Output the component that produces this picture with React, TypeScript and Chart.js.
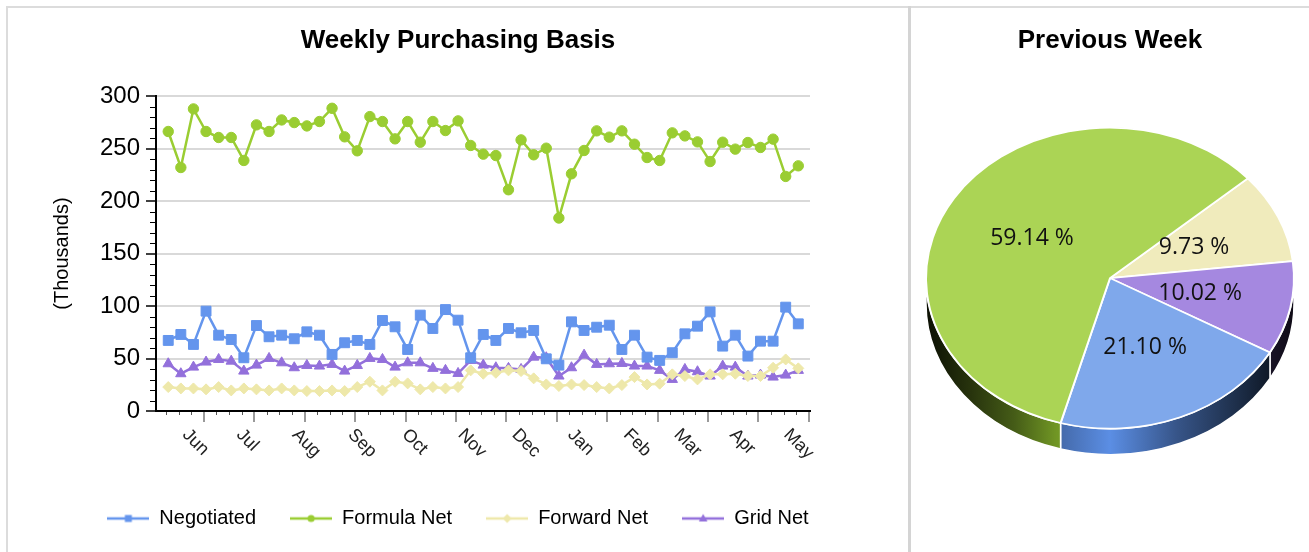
import React, { useEffect, useRef } from "react";
import { Chart, registerables } from "chart.js";

Chart.register(...registerables);
Chart.defaults.font.family = "'Liberation Sans', Arial, sans-serif";
Chart.defaults.color = "#000";

// ---------- data ----------
const FIRST_WEEK = "2022-05-22";

const NEGOTIATED = [
  67.2, 72.9, 63.4, 95.1, 72.2, 68.1, 50.7, 81.4, 70.7, 72.2, 68.8, 75.4, 72.2, 53.9, 65.0, 67.2, 63.4,
  86.2, 80.2, 58.6, 91.3, 78.6, 96.6, 86.5, 50.7, 72.9, 67.2, 78.6, 74.5, 76.7, 49.7, 43.7, 84.9, 76.7,
  79.8, 81.7, 58.6, 72.2, 51.3, 48.2, 55.5, 73.5, 80.8, 94.4, 61.8, 72.2, 52.3, 66.5, 66.5, 98.9, 83.0,
];
const FORMULA_NET = [
  266.2, 231.9, 287.7, 266.2, 260.5, 260.5, 238.6, 272.5, 266.2, 277.2, 274.7, 271.5, 275.7, 288.3, 261.1,
  247.8, 280.4, 275.7, 259.2, 275.7, 256.0, 275.7, 267.1, 276.3, 252.9, 244.6, 243.3, 210.7, 258.2, 244.0,
  250.3, 183.8, 225.9, 248.1, 266.8, 260.8, 266.8, 254.1, 241.4, 238.6, 264.9, 262.0, 256.3, 237.6, 256.0,
  249.4, 255.7, 251.0, 258.9, 223.4, 233.5,
];
const FORWARD_NET = [
  22.8, 21.5, 21.5, 20.6, 22.8, 19.6, 21.5, 20.6, 19.6, 21.5, 19.6, 19.0, 19.0, 19.6, 19.0, 22.8, 27.9,
  19.6, 27.9, 26.3, 20.6, 22.8, 21.5, 22.8, 38.7, 35.5, 36.4, 38.7, 38.0, 31.1, 25.3, 23.8, 25.3, 24.7,
  22.8, 21.5, 24.7, 32.3, 25.3, 26.0, 34.9, 33.3, 30.1, 34.9, 34.9, 35.5, 33.3, 33.3, 41.2, 49.1, 40.6,
];
const GRID_NET = [
  45.0, 35.5, 41.8, 46.6, 49.1, 47.5, 38.0, 43.7, 50.1, 45.9, 41.2, 43.4, 42.8, 44.4, 38.0, 43.4, 50.1,
  49.1, 41.8, 45.9, 45.9, 40.6, 38.7, 35.8, 48.2, 43.7, 41.2, 40.6, 39.6, 51.3, 50.7, 33.3, 41.2, 53.2,
  44.4, 45.0, 45.3, 42.8, 42.8, 38.7, 30.1, 39.6, 37.4, 33.3, 42.8, 41.8, 33.3, 34.2, 32.3, 34.2, 38.7,
];

const MONTH_LABELS = ["Jun", "Jul", "Aug", "Sep", "Oct", "Nov", "Dec", "Jan", "Feb", "Mar", "Apr", "May"];
const MONTH_STARTS = [
  "2022-06-01", "2022-07-01", "2022-08-01", "2022-09-01", "2022-10-01", "2022-11-01",
  "2022-12-01", "2023-01-01", "2023-02-01", "2023-03-01", "2023-04-01", "2023-05-01",
];

const Y_MIN = 0;
const Y_MAX = 300;
const Y_STEP = 50;
const Y_MINOR_STEP = 10;

const PIE_LABELS = ["Forward Net", "Grid Net", "Negotiated", "Formula Net"];
const PIE_VALUES = [9.73, 10.02, 21.1, 59.14];

// ---------- styles ----------
const SERIES = [
  { label: "Negotiated", values: NEGOTIATED, color: "#6495ED", style: "rect", radius: 7 },
  { label: "Formula Net", values: FORMULA_NET, color: "#9ACD32", style: "circle", radius: 5.2 },
  { label: "Forward Net", values: FORWARD_NET, color: "#EEE8AA", style: "rectRot", radius: 5.5 },
  { label: "Grid Net", values: GRID_NET, color: "#9370DB", style: "triangle", radius: 6 },
];
const PIE_TOP_COLORS = ["#f0ebbc", "#a588e0", "#7fa8eb", "#abd455"];
const PIE_SIDE_COLORS = [
  [238, 232, 170],
  [147, 112, 219],
  [91, 142, 228],
  [154, 205, 50],
];
const SHADE: [number, number][] = [
  [0, 0.08], [0.12, 0.25], [0.24, 0.45], [0.35, 0.72], [0.5, 1.0],
  [0.68, 0.6], [0.86, 0.3], [0.93, 0.18], [1, 0.1],
];
const TILT = 150.5 / 184;
const DEPTH = 26;
const TICK_SHIFT_DAYS = -1.2;
const DAY_MS = 86400000;

const dayOf = (iso: string) => (Date.parse(iso) - Date.parse(FIRST_WEEK)) / DAY_MS;

function legendSample(color: string, style: string) {
  const c = document.createElement("canvas");
  c.width = 42;
  c.height = 14;
  const g = c.getContext("2d")!;
  g.strokeStyle = color;
  g.fillStyle = color;
  g.lineWidth = 2.5;
  g.beginPath();
  g.moveTo(0, 7);
  g.lineTo(42, 7);
  g.stroke();
  g.beginPath();
  if (style === "rect") {
    g.rect(17.5, 3.5, 7, 7);
  } else if (style === "circle") {
    g.arc(21, 7, 3.6, 0, Math.PI * 2);
  } else if (style === "rectRot") {
    g.moveTo(21, 2.5);
    g.lineTo(25.5, 7);
    g.lineTo(21, 11.5);
    g.lineTo(16.5, 7);
    g.closePath();
  } else {
    g.moveTo(21, 2.5);
    g.lineTo(25.3, 10);
    g.lineTo(16.7, 10);
    g.closePath();
  }
  g.fill();
  return c;
}

const axisDecor = {
  id: "axisDecor",
  afterDraw(chart: any) {
    const { ctx, chartArea } = chart;
    const xs = chart.scales.x;
    const ys = chart.scales.y;
    ctx.save();
    // minor y ticks
    ctx.strokeStyle = "#000";
    ctx.lineWidth = 1;
    for (let v = Y_MIN + Y_MINOR_STEP; v < Y_MAX; v += Y_MINOR_STEP) {
      if (v % Y_STEP === 0) continue;
      const y = Math.round(ys.getPixelForValue(v)) + 0.5;
      ctx.beginPath();
      ctx.moveTo(chartArea.left - 6, y);
      ctx.lineTo(chartArea.left, y);
      ctx.stroke();
    }
    // x ticks (weekly minor, 4-weekly major)
    const base = chartArea.bottom + 1;
    const weeks = NEGOTIATED.length;
    for (let i = 0; i <= weeks; i++) {
      const x = xs.getPixelForValue(7 * i + TICK_SHIFT_DAYS);
      if (x > chartArea.right + 1) continue;
      const major = (i - 3) % 4 === 0;
      ctx.beginPath();
      if (major) {
        ctx.strokeStyle = "#9a9a9a";
        ctx.lineWidth = 2;
        ctx.moveTo(Math.round(x), base);
        ctx.lineTo(Math.round(x), base + 10);
      } else {
        ctx.strokeStyle = "#555";
        ctx.lineWidth = 1;
        ctx.moveTo(Math.round(x) + 0.5, base);
        ctx.lineTo(Math.round(x) + 0.5, base + 3);
      }
      ctx.stroke();
    }
    // month labels, rotated 45 degrees clockwise
    ctx.fillStyle = "#222";
    ctx.font = "18px 'Liberation Sans', Arial, sans-serif";
    ctx.textAlign = "left";
    ctx.textBaseline = "middle";
    MONTH_LABELS.forEach((m, i) => {
      const x = xs.getPixelForValue(dayOf(MONTH_STARTS[i]));
      ctx.save();
      ctx.translate(x - 1, chartArea.bottom + 21);
      ctx.rotate(Math.PI / 4);
      ctx.fillText(m, 0, 0);
      ctx.restore();
    });
    ctx.restore();
  },
};

function rgbShade(c: number[], f: number) {
  return `rgb(${Math.round(c[0] * f)},${Math.round(c[1] * f)},${Math.round(c[2] * f)})`;
}

const pie3d = {
  id: "pie3d",
  beforeDatasetsDraw(chart: any) {
    const ctx = chart.ctx;
    const meta = chart.getDatasetMeta(0);
    ctx.save();
    meta.data.forEach((arc: any, i: number) => {
      const cx = arc.x;
      const cy = arc.y;
      const rx = arc.outerRadius;
      const ry = rx * TILT;
      for (const off of [-2 * Math.PI, 0, 2 * Math.PI]) {
        const lo = Math.max(arc.startAngle, off);
        const hi = Math.min(arc.endAngle, off + Math.PI);
        if (hi <= lo) continue;
        const a = lo - off;
        const b = hi - off;
        ctx.beginPath();
        ctx.ellipse(cx, cy, rx, ry, 0, a, b, false);
        ctx.lineTo(cx + rx * Math.cos(b), cy + ry * Math.sin(b) + DEPTH);
        ctx.ellipse(cx, cy + DEPTH, rx, ry, 0, b, a, true);
        ctx.closePath();
        const g = ctx.createLinearGradient(cx - rx, 0, cx + rx, 0);
        SHADE.forEach(([u, f]) => g.addColorStop(u, rgbShade(PIE_SIDE_COLORS[i], f)));
        ctx.fillStyle = g;
        ctx.fill();
        ctx.strokeStyle = "#fff";
        ctx.lineWidth = 1.5;
        ctx.stroke();
      }
    });
    ctx.restore();
    const arc0 = meta.data[0];
    ctx.save();
    ctx.translate(arc0.x, arc0.y);
    ctx.scale(1, TILT);
    ctx.translate(-arc0.x, -arc0.y);
  },
  afterDatasetsDraw(chart: any) {
    const ctx = chart.ctx;
    ctx.restore();
    const meta = chart.getDatasetMeta(0);
    ctx.save();
    ctx.font = "23px 'Open Sans', sans-serif";
    ctx.fillStyle = "#111";
    ctx.textAlign = "center";
    ctx.textBaseline = "middle";
    meta.data.forEach((arc: any, i: number) => {
      const mid = (arc.startAngle + arc.endAngle) / 2;
      const rr = arc.outerRadius / 2;
      ctx.fillText(
        `${PIE_VALUES[i].toFixed(2)} %`,
        arc.x + Math.cos(mid) * rr,
        arc.y + Math.sin(mid) * rr * TILT
      );
    });
    ctx.restore();
  },
};

export default function App() {
  const lineRef = useRef<HTMLCanvasElement>(null);
  const pieRef = useRef<HTMLCanvasElement>(null);

  useEffect(() => {
    const samples = SERIES.map((s) => legendSample(s.color, s.style));
    const line = new Chart(lineRef.current!, {
      type: "line",
      data: {
        datasets: SERIES.map((s) => ({
          label: s.label,
          data: s.values.map((v, i) => ({ x: 7 * i, y: v })),
          borderColor: s.color,
          backgroundColor: s.color,
          borderWidth: 2.5,
          pointStyle: s.style as any,
          pointRadius: s.radius,
          pointBackgroundColor: s.color,
          pointBorderColor: s.color,
          pointBorderWidth: 1,
          tension: 0,
        })),
      },
      options: {
        responsive: false,
        animation: false,
        events: [],
        layout: { padding: { left: 30, right: 22, top: 10, bottom: 13.5 } },
        plugins: {
          title: {
            display: true,
            text: "Weekly Purchasing Basis",
            color: "#000",
            font: { size: 26, weight: "bold" },
            padding: { top: 15, bottom: 39.8 },
          },
          legend: {
            position: "bottom",
            labels: {
              usePointStyle: true,
              pointStyleWidth: 42,
              padding: 34,
              color: "#000",
              font: { size: 20 },
              generateLabels: (chart: any) =>
                chart.data.datasets.map((ds: any, i: number) => ({
                  text: ds.label,
                  pointStyle: samples[i],
                  fillStyle: ds.borderColor,
                  strokeStyle: ds.borderColor,
                  fontColor: "#000",
                  lineWidth: 0,
                  hidden: false,
                  datasetIndex: i,
                })),
            },
          },
          tooltip: { enabled: false },
        },
        scales: {
          x: {
            type: "linear",
            min: -6.8,
            max: 356.5,
            ticks: { display: false },
            grid: { display: false },
            border: { color: "#000", width: 2 },
            afterFit: (s: any) => {
              s.height = 63.5;
            },
          },
          y: {
            min: Y_MIN,
            max: Y_MAX,
            ticks: { stepSize: Y_STEP, color: "#000", font: { size: 24 }, padding: 6 },
            grid: { color: "#d9d9d9", lineWidth: 2, tickColor: "#000", tickLength: 10, tickWidth: 1.5 },
            border: { color: "#000", width: 2 },
            title: {
              display: true,
              text: "(Thousands)",
              color: "#000",
              font: { size: 20 },
              padding: { top: 20, bottom: 0 },
            },
            afterFit: (s: any) => {
              s.width = 126;
            },
          },
          yPad: {
            type: "linear",
            position: "right",
            display: true,
            ticks: { display: false },
            grid: { display: false, drawTicks: false },
            border: { display: false },
            afterFit: (s: any) => {
              s.width = 76;
            },
          },
        },
      } as any,
      plugins: [axisDecor],
    });

    const pie = new Chart(pieRef.current!, {
      type: "pie",
      data: {
        labels: PIE_LABELS,
        datasets: [
          {
            data: PIE_VALUES,
            backgroundColor: PIE_TOP_COLORS,
            borderColor: "#fff",
            borderWidth: 2,
            hoverOffset: 0,
            clip: false,
          } as any,
        ],
      },
      options: {
        responsive: false,
        animation: false,
        events: [],
        rotation: 48.5,
        radius: 184,
        layout: { padding: { top: 10, bottom: 59, left: 0, right: 0 } },
        plugins: {
          title: {
            display: true,
            text: "Previous Week",
            color: "#000",
            font: { size: 26, weight: "bold" },
            padding: { top: 15, bottom: 7 },
          },
          legend: { display: false },
          tooltip: { enabled: false },
        },
      } as any,
      plugins: [pie3d],
    });

    return () => {
      line.destroy();
      pie.destroy();
    };
  }, []);

  return (
    <div
      style={{
        position: "fixed",
        left: 0,
        top: 0,
        width: 1309,
        height: 552,
        overflow: "hidden",
        background: "#fff",
      }}
    >
      <canvas
        ref={lineRef}
        width={908}
        height={552}
        style={{ position: "absolute", left: 0, top: 0, width: 908, height: 552 }}
      />
      <canvas
        ref={pieRef}
        width={398}
        height={552}
        style={{ position: "absolute", left: 911, top: 0, width: 398, height: 552 }}
      />
      <div style={{ position: "absolute", left: 6, top: 6, width: 1303, height: 2, background: "#dcdcdc" }} />
      <div style={{ position: "absolute", left: 6, top: 6, width: 2, height: 546, background: "#dcdcdc" }} />
      <div style={{ position: "absolute", left: 908, top: 6, width: 3, height: 546, background: "#d4d4d4" }} />
    </div>
  );
}
